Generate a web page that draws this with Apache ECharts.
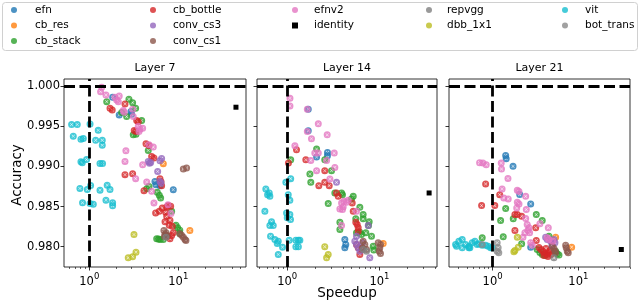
<!DOCTYPE html>
<html><head><meta charset="utf-8">
<script src="https://cdn.jsdelivr.net/npm/echarts@6/dist/echarts.min.js"></script>
<style>html,body{margin:0;padding:0;background:#fff}#c{width:640px;height:302px}</style>
</head><body><div id="c"></div><script>
// ---------- Data (speedup, accuracy) ----------
const panelTitles = ['Layer 7', 'Layer 14', 'Layer 21'];
const seriesNames = ['efn','cb_res','cb_stack','cb_bottle','conv_cs3','conv_cs1','efnv2','identity','repvgg','dbb_1x1','vit','bot_trans'];
const yTicks = [0.980, 0.985, 0.990, 0.995, 1.000];
const xMajorTicks = [1, 10];
const xMinorTicks = [
  [0.6,0.7,0.8,0.9,2,3,4,5,6,7,8,9,20,30,40,50],
  [0.5,0.6,0.7,0.8,0.9,2,3,4,5,6,7,8,9,20,30,40],
  [0.4,0.5,0.6,0.7,0.8,0.9,2,3,4,5,6,7,8,9,20,30,40]
];

// Layer 7
const efn_L7 = [[1.83,0.9986],[2.17,0.9964],[2.99,0.99647],[2.94,0.99684],[5.47,0.98813],[5.61,0.98772],[6.23,0.9876],[8.79,0.9871]];
const cb_res_L7 = [[6.79,0.99033],[13.5,0.98202]];
const cb_stack_L7 = [[1.57,0.99805],[2.79,0.99835],[3.07,0.99793],[3.32,0.99723],[2.31,0.99669],[2.63,0.99619],[3.88,0.9957],[3.12,0.99392],[3.35,0.994],[4.6,0.99198],[4.69,0.98751],[4.42,0.98723],[5.81,0.98677],[6.12,0.9864],[6.34,0.98607],[8.43,0.98441],[9.43,0.98268],[9.84,0.98235],[10.4,0.98206],[10.4,0.98165],[5.72,0.98099],[6.23,0.9809],[6.78,0.9809],[6.0,0.98095]];
const cb_bottle_L7 = [[1.71,0.99723],[1.81,0.99702],[2.52,0.99777],[3.41,0.9957],[3.55,0.99554],[3.2,0.99446],[3.35,0.99433],[4.34,0.99281],[4.69,0.9926],[5.02,0.99123],[5.33,0.99103],[2.52,0.98896],[3.07,0.98909],[4.12,0.98698],[6.23,0.98847],[6.4,0.9881],[6.5,0.9876],[6.12,0.98441],[5.57,0.98421],[6.61,0.98483],[7.21,0.98429],[7.41,0.98496],[7.72,0.98512],[8.22,0.98504],[7.41,0.98379],[7.1,0.9831],[8.07,0.9833],[7.92,0.98268],[8.57,0.98255],[7.6,0.98131],[8.07,0.98099],[8.43,0.9814],[8.79,0.98173]];
const conv_cs3_L7 = [[4.6,0.99061],[4.9,0.99049],[4.75,0.9904],[6.23,0.9907],[6.5,0.99099],[5.87,0.98937],[6.23,0.98813],[6.4,0.98793]];
const conv_cs1_L7 = [[11.4,0.98967],[12.4,0.9898],[6.9,0.98202],[7.28,0.98173],[7.1,0.98152],[7.46,0.9814],[7.0,0.98128],[10.45,0.98161],[10.9,0.98144],[11.4,0.98119],[11.9,0.9809],[12.2,0.98078]];
const efnv2_L7 = [[1.38,0.99984],[1.34,0.99929],[1.54,0.99888],[1.94,0.9986],[2.17,0.99876],[2.03,0.99826],[2.12,0.99805],[2.41,0.99694],[2.47,0.99674],[3.07,0.99711],[3.12,0.99619],[3.55,0.99495],[3.71,0.99463],[3.98,0.99475],[3.62,0.99433],[2.58,0.99194],[2.52,0.99061],[3.98,0.9902],[3.32,0.98847],[4.69,0.99268],[5.24,0.9924],[5.02,0.98689],[5.33,0.98545],[8.28,0.98413],[7.66,0.98524],[4.42,0.98806]];
const identity_L7 = [[44.5,0.99736]];
const repvgg_L7 = [[7.28,0.98119]];
const dbb_1x1_L7 = [[3.18,0.98152],[2.74,0.97863],[3.07,0.97876],[3.35,0.97933]];
const vit_L7 = [[0.633,0.9952],[0.733,0.9952],[1.02,0.99528],[0.661,0.99375],[0.806,0.99338],[0.857,0.99346],[1.26,0.99449],[1.18,0.99325],[1.40,0.99325],[1.40,0.99263],[0.806,0.99056],[0.834,0.99044],[0.933,0.99085],[1.32,0.99035],[1.41,0.99035],[0.785,0.98725],[0.95,0.98712],[1.035,0.98762],[1.32,0.98704],[1.59,0.98766],[1.71,0.98712],[0.84,0.98547],[1.02,0.98539],[1.11,0.9853],[1.54,0.9858],[1.83,0.98547],[1.83,0.9851]];
const bot_trans_L7 = [];

// Layer 14
const efn_L14 = [[1.69,0.99711],[1.69,0.99442],[2.73,0.99173],[2.73,0.99132],[2.08,0.99116],[4.21,0.9809],[4.31,0.98028],[4.21,0.97987]];
const cb_res_L14 = [[10.97,0.98041]];
const cb_stack_L14 = [[2.08,0.99215],[1.09,0.99082],[2.55,0.99082],[3.02,0.98946],[1.76,0.98905],[1.8,0.98801],[3.28,0.98669],[3.88,0.98669],[3.97,0.98648],[2.78,0.98537],[5.19,0.98627],[4.97,0.98595],[6.12,0.98491],[6.65,0.984],[6.65,0.98347],[5.53,0.98347],[7.73,0.9831],[7.6,0.98264],[3.72,0.98305],[3.72,0.98214],[5.63,0.98173],[6.12,0.98181],[6.38,0.98152],[7.11,0.98173],[8.19,0.98131],[8.55,0.98007],[8.67,0.97958]];
const cb_bottle_L14 = [[1.26,0.99206],[1.03,0.99041],[1.59,0.99082],[2.55,0.98946],[2.2,0.9876],[2.55,0.98801],[2.85,0.9876],[3.42,0.98669],[3.57,0.98627],[5.06,0.98545],[5.19,0.98441],[5.53,0.98305],[5.73,0.98276],[5.88,0.98236],[5.88,0.98193],[5.63,0.98028],[5.88,0.97987],[6.12,0.97904],[6.38,0.97966]];
const conv_cs3_L14 = [[3.42,0.98801],[7.55,0.98264],[5.63,0.98131],[5.4,0.98069],[5.63,0.98028],[5.88,0.97987],[6.12,0.97945],[6.55,0.9805],[7.85,0.97863]];
const conv_cs1_L14 = [[6.65,0.98069],[6.93,0.98028],[7.23,0.97966],[6.55,0.97987],[9.68,0.98049],[10.25,0.98028],[10.07,0.97987],[9.93,0.97945],[10.25,0.97917]];
const efnv2_L14 = [[1.07,0.99847],[1.07,0.99752],[1.65,0.99711],[2.17,0.99529],[1.65,0.99433],[1.83,0.99343],[2.71,0.99392],[1.21,0.99256],[1.99,0.99165],[2.17,0.99165],[3.23,0.99165],[1.8,0.99074],[2.67,0.99074],[3.28,0.98987],[2.08,0.98946],[2.9,0.98843],[3.88,0.98545],[4.1,0.98565],[4.39,0.98553],[4.58,0.98578],[4.04,0.98496],[3.97,0.98462],[3.72,0.98471],[5.63,0.98441],[3.88,0.98264]];
const identity_L14 = [[34.5,0.98669]];
const repvgg_L14 = [[6.65,0.97966],[7.23,0.97945]];
const dbb_1x1_L14 = [[2.55,0.98],[2.78,0.97904],[2.67,0.97863]];
const vit_L14 = [[1.09,0.98847],[0.966,0.98801],[0.586,0.98719],[0.638,0.98669],[0.648,0.98627],[0.612,0.98648],[1.025,0.98648],[1.067,0.98578],[0.572,0.98441],[0.983,0.98421],[1.067,0.984],[1.085,0.98338],[1.0,0.9836],[0.676,0.9831],[0.648,0.98264],[0.705,0.98264],[0.659,0.98131],[0.734,0.9809],[0.779,0.98041],[0.799,0.98069],[0.889,0.97995],[1.05,0.98082],[1.24,0.98082],[1.32,0.98082],[1.37,0.98082],[1.24,0.98],[1.32,0.98],[0.799,0.97904]];
const bot_trans_L14 = [];

// Layer 21
const efn_L21 = [[1.42,0.99136],[1.44,0.99095],[1.73,0.99],[2.07,0.98649],[2.78,0.98533],[2.78,0.97995]];
const cb_res_L21 = [[5.43,0.98119],[8.35,0.97995]];
const cb_stack_L21 = [[1.42,0.98475],[1.24,0.98326],[1.74,0.98347],[3.23,0.984],[3.79,0.98326],[4.54,0.98131],[1.33,0.98124],[2.18,0.98037],[0.756,0.98111],[3.31,0.97966],[3.79,0.97904],[5.43,0.97945],[5.67,0.97913],[5.94,0.97896],[3.56,0.97929],[4.08,0.97892]];
const cb_bottle_L21 = [[0.829,0.98781],[1.21,0.98648],[0.744,0.98512],[1.06,0.98512],[1.82,0.984],[1.94,0.984],[2.18,0.98379],[1.82,0.98202],[3.18,0.98236],[3.23,0.98078],[3.47,0.97991],[3.66,0.97966],[3.87,0.97942],[4.08,0.97917],[4.3,0.97904],[4.54,0.97929],[4.66,0.97954],[4.19,0.97979],[3.97,0.97892],[4.42,0.9788],[4.79,0.97904]];
const conv_cs3_L21 = [[4.15,0.98119],[4.34,0.9809],[4.75,0.98069],[5.19,0.9809],[5.33,0.9805],[4.92,0.98016]];
const conv_cs1_L21 = [[4.96,0.98007],[5.19,0.97979],[5.33,0.97945],[5.43,0.97925],[7.11,0.9802],[7.22,0.97987],[7.42,0.97945],[7.62,0.97925]];
const efnv2_L21 = [[0.77,0.99041],[0.842,0.9902],[0.705,0.99045],[1.26,0.99041],[1.27,0.98967],[1.51,0.9885],[1.29,0.98719],[1.94,0.98702],[2.03,0.98686],[2.43,0.98627],[1.35,0.98607],[1.52,0.98595],[1.94,0.98553],[2.03,0.98533],[2.47,0.98462],[1.91,0.98483],[2.43,0.98351],[2.53,0.98276],[2.65,0.98236],[2.58,0.98202],[2.38,0.98173],[2.7,0.98173],[2.26,0.98119],[2.78,0.9805],[2.9,0.9802],[3.56,0.98285],[4.46,0.98236],[4.34,0.98111],[4.54,0.9809],[5.05,0.98069]];
const identity_L21 = [[31.7,0.97966]];
const repvgg_L21 = [[5.19,0.97863]];
const dbb_1x1_L21 = [[1.94,0.98119],[1.99,0.97995],[1.82,0.97954],[1.77,0.97938]];
const vit_L21 = [[0.37,0.98028],[0.404,0.98069],[0.442,0.9809],[0.484,0.98028],[0.529,0.98007],[0.578,0.9805],[0.621,0.98069],[0.661,0.98028],[0.692,0.98037],[0.756,0.9802],[0.829,0.9802],[0.889,0.98007],[0.948,0.97987],[0.995,0.97987],[0.442,0.97987],[0.529,0.97987],[0.38,0.98007],[0.543,0.97987]];
const bot_trans_L21 = [[1.13,0.9805],[1.16,0.97987],[1.13,0.97945],[1.18,0.97925],[0.756,0.98028]];

const DATA = {
  efn: [efn_L7, efn_L14, efn_L21],
  cb_res: [cb_res_L7, cb_res_L14, cb_res_L21],
  cb_stack: [cb_stack_L7, cb_stack_L14, cb_stack_L21],
  cb_bottle: [cb_bottle_L7, cb_bottle_L14, cb_bottle_L21],
  conv_cs3: [conv_cs3_L7, conv_cs3_L14, conv_cs3_L21],
  conv_cs1: [conv_cs1_L7, conv_cs1_L14, conv_cs1_L21],
  efnv2: [efnv2_L7, efnv2_L14, efnv2_L21],
  identity: [identity_L7, identity_L14, identity_L21],
  repvgg: [repvgg_L7, repvgg_L14, repvgg_L21],
  dbb_1x1: [dbb_1x1_L7, dbb_1x1_L14, dbb_1x1_L21],
  vit: [vit_L7, vit_L14, vit_L21],
  bot_trans: [bot_trans_L7, bot_trans_L14, bot_trans_L21]
};

// ---------- Style / layout ----------
const COLORS = {efn:'#1f77b4', cb_res:'#ff7f0e', cb_stack:'#2ca02c', cb_bottle:'#d62728', conv_cs3:'#9467bd', conv_cs1:'#8c564b', efnv2:'#e377c2', identity:'#000000', repvgg:'#7f7f7f', dbb_1x1:'#bcbd22', vit:'#17becf', bot_trans:'#8a8a8a'};
const gridLeft = [64, 257, 449], gridWidth = [182, 180, 181];
const gridTop = 79, gridHeight = 188;
const xMin = [0.52, 0.47, 0.31], xMax = [57.7, 42, 40];
const yMin = 0.97748, yMax = 1.00087;
const FONT = 'DejaVu Sans';
// circle marker with a thin light "x" cut out of it (matplotlib-like hatched look)
const HATCHED = 'path://M10,0 A10,10 0 1,1 -10,0 A10,10 0 1,1 10,0 Z ' +
  'M3.82,-4.67 L0,-0.85 L-3.82,-4.67 L-4.67,-3.82 L-0.85,0 L-4.67,3.82 L-3.82,4.67 L0,0.85 L3.82,4.67 L4.67,3.82 L0.85,0 L4.67,-3.82 Z';

const chart = echarts.init(document.getElementById('c'), null, {renderer: 'canvas'});

const grid = [], xAxis = [], yAxis = [], title = [], series = [];
for (let p = 0; p < 3; p++) {
  grid.push({left: gridLeft[p], top: gridTop, width: gridWidth[p], height: gridHeight, show: true, borderColor: '#000', borderWidth: 0.8, backgroundColor: 'transparent'});
  xAxis.push({
    type: 'log', logBase: 10, gridIndex: p, min: xMin[p], max: xMax[p], position: 'bottom',
    axisLine: {show: false}, splitLine: {show: false},
    axisTick: {show: true, customValues: xMajorTicks, length: 3.5, lineStyle: {color: '#000', width: 0.8}},
    axisLabel: {show: true, customValues: xMajorTicks, margin: 5, color: '#000', fontFamily: FONT, fontSize: 11.5,
      formatter: v => '{b|10}{s|' + Math.round(Math.log10(v)) + '}',
      rich: {b: {fontSize: 11.5, fontFamily: FONT, color: '#000', lineHeight: 16, verticalAlign: 'bottom'},
             s: {fontSize: 8.5, fontFamily: FONT, color: '#000', lineHeight: 10, verticalAlign: 'top'}}}
  });
  yAxis.push({
    type: 'value', gridIndex: p, min: yMin, max: yMax,
    axisLine: {show: false}, splitLine: {show: false},
    axisTick: {show: true, customValues: yTicks, length: 3.5, lineStyle: {color: '#000', width: 0.8}},
    axisLabel: {show: p === 0, customValues: yTicks, margin: 4, color: '#000', fontFamily: FONT, fontSize: 11.5,
      formatter: v => v.toFixed(3)}
  });
  title.push({text: panelTitles[p], left: gridLeft[p] + gridWidth[p] / 2, top: 63, textAlign: 'center', padding: 0,
    textStyle: {fontSize: 11, fontWeight: 'normal', color: '#000', fontFamily: FONT}});
}
// minor tick axes
for (let p = 0; p < 3; p++) {
  xAxis.push({
    type: 'log', logBase: 10, gridIndex: p, min: xMin[p], max: xMax[p], position: 'bottom',
    axisLine: {show: false}, splitLine: {show: false}, axisLabel: {show: false},
    axisTick: {show: true, customValues: xMinorTicks[p], length: 2, lineStyle: {color: '#000', width: 0.6}}
  });
}

for (let p = 0; p < 3; p++) {
  seriesNames.forEach((name, k) => {
    series.push({
      type: 'scatter', name: name, xAxisIndex: p, yAxisIndex: p,
      data: DATA[name][p],
      symbol: name === 'identity' ? 'rect' : HATCHED,
      symbolSize: name === 'identity' ? 5 : 7,
      itemStyle: {color: COLORS[name], opacity: name === 'identity' ? 1 : 0.8},
      emphasis: {disabled: true}, animation: false, z: 2 + k * 0.01
    });
  });
  series.push({
    type: 'scatter', name: 'ref' + p, xAxisIndex: p, yAxisIndex: p, data: [], z: 5, animation: false,
    markLine: {silent: true, symbol: 'none', animation: false, label: {show: false},
      lineStyle: {color: '#000', width: 2.8, type: [11, 4.5]},
      data: [{xAxis: 1}, {yAxis: 1.0}]}
  });
}

const legendCols = [['efn','cb_res','cb_stack'], ['cb_bottle','conv_cs3','conv_cs1'], ['efnv2','identity'], ['repvgg','dbb_1x1'], ['vit','bot_trans']];
const legendMarkerX = [14, 153, 295, 429, 565];
const legendTextX = [35, 173, 314, 447, 585];
const LEG_ICON = 6;
const legend = legendCols.map((col, i) => {
  const left = legendMarkerX[i] - LEG_ICON / 2;
  const pad = legendTextX[i] - (left + LEG_ICON + 5);
  return {
    orient: 'vertical', left: left, top: 3, itemWidth: LEG_ICON, itemHeight: LEG_ICON, itemGap: 1.5, padding: 0,
    selectedMode: false,
    data: col.map(n => ({name: n, icon: n === 'identity' ? 'rect' : 'circle', itemStyle: {color: COLORS[n], opacity: n === 'identity' ? 1 : 0.8}})),
    textStyle: {fontSize: 10.5, color: '#000', fontFamily: FONT, lineHeight: 14, padding: [0, 0, 0, pad]}
  };
});

chart.setOption({
  animation: false,
  backgroundColor: '#fff',
  grid, xAxis, yAxis, title, series, legend,
  graphic: [
    {type: 'rect', left: 2, top: 2, shape: {width: 635, height: 48, r: 3}, style: {fill: 'rgba(255,255,255,0.8)', stroke: '#d0d0d0', lineWidth: 1}, z: -10, silent: true},
    {type: 'text', x: 17, y: 175, rotation: Math.PI / 2, style: {text: 'Accuracy', font: '13.5px "DejaVu Sans"', fill: '#000', textAlign: 'center', textVerticalAlign: 'middle'}},
    {type: 'text', x: 347, y: 293, style: {text: 'Speedup', font: '13.5px "DejaVu Sans"', fill: '#000', textAlign: 'center', textVerticalAlign: 'middle'}}
  ]
});
</script></body></html>
